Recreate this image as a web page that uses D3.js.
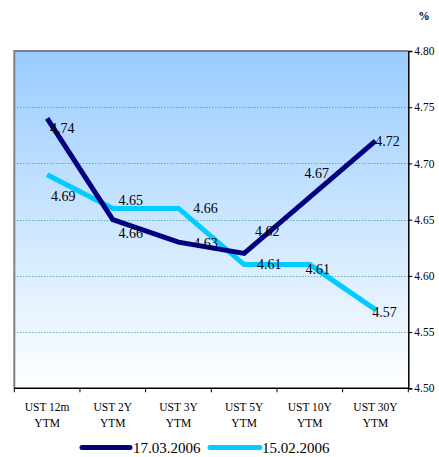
<!DOCTYPE html>
<html>
<head>
<meta charset="utf-8">
<script src="https://cdn.jsdelivr.net/npm/d3@7"></script>
<style>
  html, body { margin: 0; padding: 0; background: #ffffff; }
  svg { display: block; }
</style>
</head>
<body>
<div id="chart"></div>
<script>
// Yield curve data
const categories = [["UST 12m", "YTM"], ["UST 2Y", "YTM"], ["UST 3Y", "YTM"], ["UST 5Y", "YTM"], ["UST 10Y", "YTM"], ["UST 30Y", "YTM"]];
const seriesNames = ["17.03.2006", "15.02.2006"];
const values1703 = [4.74, 4.65, 4.63, 4.62, 4.67, 4.72];
const values1502 = [4.69, 4.66, 4.66, 4.61, 4.61, 4.57];
const yTicks = [4.50, 4.55, 4.60, 4.65, 4.70, 4.75, 4.80];
// label offsets (px) relative to each point
const labelOffsets1703 = [[15, 10], [18, -20], [27, 1], [23, -22], [7, -24], [12, 0]];
const labelOffsets1502 = [[16, 21], [18, 25], [27, 0], [25, -1], [8, 4], [9, 3]];
const colors = ["#000080", "#00ccff"];

const W = 439, H = 457;
const plot = { left: 14.3, right: 408.3, top: 51, bottom: 388.3 };

const svg = d3.select("#chart").append("svg").attr("width", W).attr("height", H);
const serif = "'Liberation Serif', 'Times New Roman', serif";

const x = d3.scaleBand().domain(d3.range(categories.length)).range([plot.left, plot.right]).padding(0);
const y = d3.scaleLinear().domain([4.5, 4.8]).range([plot.bottom, plot.top]);

// background gradient
const defs = svg.append("defs");
const grad = defs.append("linearGradient").attr("id", "bg").attr("x1", 0).attr("y1", 0).attr("x2", 0).attr("y2", 1);
grad.append("stop").attr("offset", "0%").attr("stop-color", "#99ccff");
grad.append("stop").attr("offset", "100%").attr("stop-color", "#ffffff");

svg.append("rect")
  .attr("x", plot.left).attr("y", plot.top)
  .attr("width", plot.right - plot.left).attr("height", plot.bottom - plot.top)
  .attr("fill", "url(#bg)");

// gridlines
svg.append("g").selectAll("line")
  .data(yTicks.filter(v => v > 4.5 && v < 4.8))
  .join("line")
  .attr("x1", plot.left).attr("x2", plot.right)
  .attr("y1", d => Math.round(y(d)) + 0.5).attr("y2", d => Math.round(y(d)) + 0.5)
  .attr("stroke", "#2a9a9a").attr("stroke-width", 1).attr("stroke-dasharray", "1,2");

// gray frame on top and left
svg.append("path")
  .attr("d", `M${plot.left},${plot.bottom} V${plot.top} H${plot.right}`)
  .attr("fill", "none").attr("stroke", "#808080").attr("stroke-width", 2);

// right value axis
const yAxis = d3.axisRight(y).tickValues(yTicks).tickFormat(d3.format(".2f")).tickSize(4).tickPadding(2);
const gy = svg.append("g").attr("transform", `translate(${plot.right},0)`).call(yAxis);
gy.select(".domain").attr("stroke", "#000").attr("stroke-width", 1.5);
gy.selectAll(".tick line").attr("stroke", "#000");
gy.selectAll(".tick text").attr("font-family", serif).attr("font-size", "11.5px").attr("fill", "#000");

// bottom category axis with ticks at band edges
svg.append("line")
  .attr("x1", plot.left).attr("x2", plot.right)
  .attr("y1", plot.bottom).attr("y2", plot.bottom)
  .attr("stroke", "#000").attr("stroke-width", 1.5);
const edges = d3.range(categories.length + 1).map(i => i < categories.length ? x(i) : x(i - 1) + x.bandwidth());
svg.append("g").selectAll("line").data(edges).join("line")
  .attr("x1", d => d).attr("x2", d => d)
  .attr("y1", plot.bottom).attr("y2", plot.bottom + 4)
  .attr("stroke", "#000").attr("stroke-width", 1);

const catG = svg.append("g");
categories.forEach((c, i) => {
  const t = catG.append("text")
    .attr("x", x(i) + x.bandwidth() / 2).attr("y", 410.5)
    .attr("text-anchor", "middle")
    .attr("font-family", serif).attr("font-size", "11.5px").attr("fill", "#000");
  c.forEach((line, j) => {
    t.append("tspan").attr("x", x(i) + x.bandwidth() / 2).attr("dy", j === 0 ? 0 : 16.5).text(line);
  });
});

// "%" unit label
svg.append("text").attr("x", 424).attr("y", 20).attr("text-anchor", "middle")
  .attr("font-family", serif).attr("font-size", "11.5px").attr("font-weight", "bold").text("%");

// lines
const allSeries = [values1703, values1502];
const allOffsets = [labelOffsets1703, labelOffsets1502];
const line = d3.line().x((d, i) => x(i) + x.bandwidth() / 2).y(d => y(d));

[1, 0].forEach(s => {
  svg.append("path")
    .datum(allSeries[s])
    .attr("d", line)
    .attr("fill", "none")
    .attr("stroke", colors[s])
    .attr("stroke-width", 5)
    .attr("stroke-linejoin", "miter");
});

// data labels
allSeries.forEach((vals, s) => {
  svg.append("g").selectAll("text").data(vals).join("text")
    .attr("x", (d, i) => x(i) + x.bandwidth() / 2 + allOffsets[s][i][0])
    .attr("y", (d, i) => y(d) + allOffsets[s][i][1])
    .attr("dy", "0.35em")
    .attr("text-anchor", "middle")
    .attr("font-family", serif).attr("font-size", "14px").attr("fill", "#000")
    .text(d => d3.format(".2f")(d));
});

// legend
const legendItems = [{ x1: 82, x2: 130, tx: 133 }, { x1: 210, x2: 260, tx: 262 }];
legendItems.forEach((it, s) => {
  svg.append("line").attr("x1", it.x1).attr("x2", it.x2).attr("y1", 447.5).attr("y2", 447.5)
    .attr("stroke", colors[s]).attr("stroke-width", 5).attr("stroke-linecap", "round");
  svg.append("text").attr("x", it.tx).attr("y", 453)
    .attr("font-family", serif).attr("font-size", "15px").attr("fill", "#000")
    .text(seriesNames[s]);
});
</script>
</body>
</html>
